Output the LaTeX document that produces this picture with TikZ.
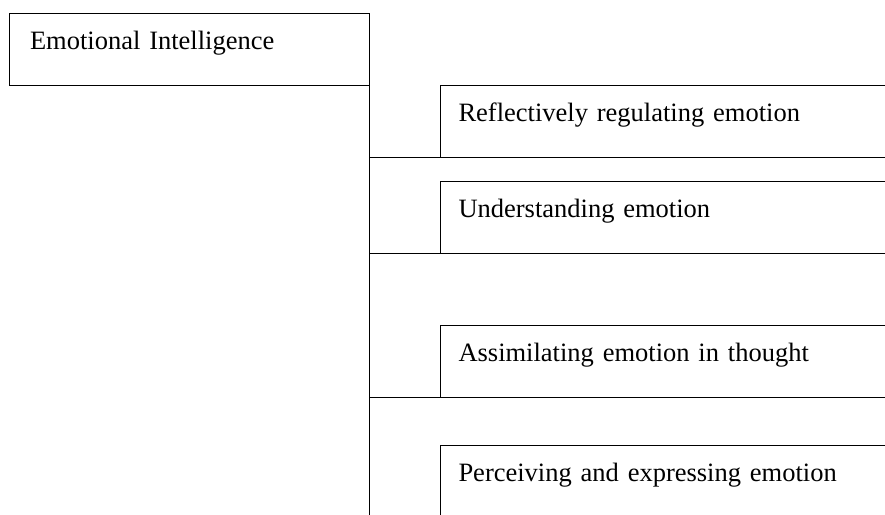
\documentclass[tikz,border=0pt]{standalone}
\usepackage{fontspec}
\setmainfont{Liberation Serif}
\usetikzlibrary{positioning}

\begin{document}
\begin{tikzpicture}[x=1pt, y=-1pt, font=\fontsize{26.5}{32}\selectfont,
  box/.style={rectangle, draw, line width=0.9pt, outer sep=0pt, anchor=north west, align=left, inner ysep=18pt, text height=18pt, text depth=18pt},
  main/.style={box, inner xsep=20.5pt, text width=318.5pt},
  sub/.style={box, inner xsep=18.5pt, text width=423pt},
  link/.style={draw, line width=0.9pt}]

  \useasboundingbox (0,0) rectangle (885,514);
  \clip (0,0) rectangle (885,514);

  \node[main] (EI) at (9.5,13.5) {Emotional Intelligence};
  \node[sub, right=71pt of EI.south east, anchor=north west] (S1) {Reflectively regulating emotion};
  \node[sub, below=24pt of S1.south west, anchor=north west] (S2) {Understanding emotion};
  \node[sub, below=72pt of S2.south west, anchor=north west] (S3) {Assimilating emotion in thought};
  \node[sub, below=48pt of S3.south west, anchor=north west] (S4) {Perceiving and expressing emotion};

  \coordinate (base) at (0,520);
  \coordinate (end) at (EI.south east |- base);

  \draw[link] (EI.south east) -- (end);
  \foreach \s in {S1,S2,S3}
    \draw[link] (EI.south east |- \s.south west) -- (\s.south west);

\end{tikzpicture}
\end{document}
